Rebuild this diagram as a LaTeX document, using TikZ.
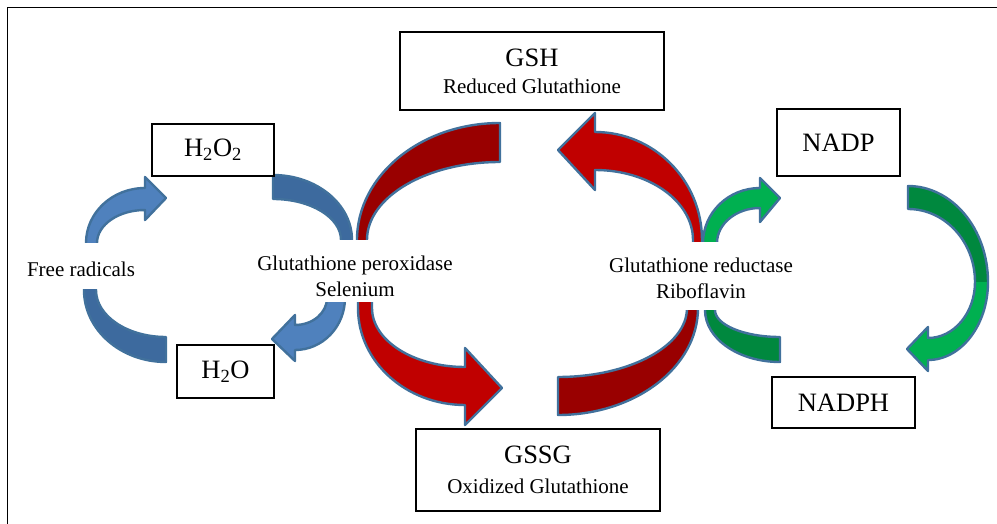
\documentclass[tikz,border=0pt]{standalone}
\usepackage{fontspec}
\setmainfont{Liberation Serif}
\definecolor{outl}{HTML}{41719C}
\definecolor{blight}{HTML}{4F81BD}
\definecolor{bdark}{HTML}{3D6A9E}
\definecolor{rlight}{HTML}{C00000}
\definecolor{rdark}{HTML}{990000}
\definecolor{glight}{HTML}{00B050}
\definecolor{gdark}{HTML}{00883E}
\newcommand\bigsz{\fontsize{26.5}{30}\selectfont}
\newcommand\smsz{\fontsize{21}{26}\selectfont}
\tikzset{
  piece/.style={draw=outl, line width=2.4, line join=round},
  box/.style={draw=black, line width=1.8, fill=white, inner sep=0, align=center},
  cover/.style={fill=white, inner sep=0},
  lbl/.style={inner sep=0, align=center, font=\smsz},
}
\begin{document}
\begin{tikzpicture}[x=1pt,y=-1pt]
\useasboundingbox (0,0) rectangle (997,524);
% frame
\draw[line width=1.8] (7.5,524) -- (7.5,7.5) -- (997,7.5);

% ---------- blue cycle ----------
% A: free radicals -> H2O2 (light)
\draw[piece, fill=blight] (86,252) -- (86,243) .. controls (86,212.6) and (112.4,188) .. (145,188)
  -- (145,177) -- (166,198) -- (145,220) -- (145,210)
  .. controls (118.5,210) and (97,224.8) .. (97,243) -- (97,252) -- cycle;
% B: H2O -> free radicals (dark)
\draw[piece, fill=bdark] (84,280) -- (84,290) .. controls (84,329.8) and (120.7,362) .. (166,362)
  -- (166,337) .. controls (127.3,337) and (96,316) .. (96,290) -- (96,280) -- cycle;
% C: H2O2 -> peroxidase (dark)
\draw[piece, fill=bdark] (273,175) .. controls (316.6,175) and (352,204.1) .. (352,240)
  -- (352,250) -- (341,250) -- (341,240)
  .. controls (341,217.4) and (310.6,199) .. (273,199) -- cycle;
% D: peroxidase -> H2O (light)
\draw[piece, fill=blight] (327,292) -- (327,298) .. controls (327,312.9) and (312.7,325) .. (295,325)
  -- (295,315) -- (272,339) -- (295,361) -- (295,350)
  .. controls (322.6,350) and (345,326.7) .. (345,298) -- (345,292) -- cycle;

% ---------- red cycle ----------
% E: top -> peroxidase (dark)
\draw[piece, fill=rdark] (357,250) -- (357,240) .. controls (357,175.4) and (421,123) .. (500,123)
  -- (500,162) .. controls (426.5,162) and (367,196.9) .. (367,240) -- (367,250) -- cycle;
% F: reductase -> GSH (light)
\draw[piece, fill=rlight] (702,250) -- (702,240) .. controls (702,180.4) and (654.1,132) .. (595,132)
  -- (595,113) -- (558,150) -- (595,190) -- (595,170)
  .. controls (649.1,170) and (693,201.3) .. (693,240) -- (693,250) -- cycle;
% G: peroxidase -> GSSG (light)
\draw[piece, fill=rlight] (358,294) -- (358,308) .. controls (358,361.6) and (405.9,405) .. (465,405)
  -- (465,425) -- (502,388) -- (465,348) -- (465,367)
  .. controls (413.6,367) and (372,340.6) .. (372,308) -- (372,294) -- cycle;
% H: bottom -> reductase (dark)
\draw[piece, fill=rdark] (698,300) -- (698,308) .. controls (698,367.1) and (635.3,415) .. (558,415)
  -- (558,377) .. controls (629.2,377) and (687,346.1) .. (687,308) -- (687,300) -- cycle;

% ---------- green cycle ----------
% I: reductase -> NADP (light)
\draw[piece, fill=glight] (703,252) -- (703,243) .. controls (703,212.6) and (728.5,188) .. (760,188)
  -- (760,178) -- (780,198) -- (760,222) -- (760,208)
  .. controls (736.3,208) and (717,223.7) .. (717,243) -- (717,252) -- cycle;
% L: NADPH side -> reductase (dark)
\draw[piece, fill=gdark] (705,300) -- (705,310) .. controls (705,338.7) and (738.6,362) .. (780,362)
  -- (780,337) .. controls (744.1,337) and (715,324.9) .. (715,310) -- (715,300) -- cycle;
% J + K: NADP -> NADPH
\fill[gdark] (908,186) .. controls (952.2,186) and (988,229) .. (988,282)
  -- (975,282) .. controls (975,241.7) and (945,209) .. (908,209) -- cycle;
\fill[glight] (988,282) .. controls (988,325.1) and (961.1,360) .. (928,360)
  -- (928,371) -- (907,349) -- (928,327) -- (928,338)
  .. controls (954,338) and (975,312.9) .. (975,282) -- cycle;
\draw[piece] (908,186) .. controls (952.2,186) and (988,229) .. (988,282)
  .. controls (988,325.1) and (961.1,360) .. (928,360)
  -- (928,371) -- (907,349) -- (928,327) -- (928,338)
  .. controls (954,338) and (975,312.9) .. (975,282)
  .. controls (975,241.7) and (945,209) .. (908,209) -- cycle;

% ---------- white backgrounds of the labels ----------
\node[cover, minimum width=120, minimum height=46] (frbg) at (81,266) {};
\node[cover, minimum width=204, minimum height=62] (gpxbg) at (355,271) {};
\node[cover, minimum width=200, minimum height=68] (grbg) at (701,276) {};
% ---------- labels ----------
\node[lbl] (fr) at (81,269) {Free radicals};
\node[lbl] (gpx) at (355,276) {Glutathione peroxidase\\Selenium};
\node[lbl] (gr) at (701,278.5) {Glutathione reductase\\Riboflavin};

% ---------- boxes ----------
\node[box, font=\smsz, minimum width=264, minimum height=78] (gsh) at (532,71)
  {{\bigsz GSH}\\[1pt]Reduced Glutathione};
\node[box, font=\smsz, minimum width=244, minimum height=82] (gssg) at (538,470)
  {{\bigsz GSSG}\\[4pt]Oxidized Glutathione};
\node[box, minimum width=122, minimum height=52, font=\bigsz] (h2o2) at (213,150)
  {H\textsubscript{2}O\textsubscript{2}};
\node[box, minimum width=97, minimum height=53, font=\bigsz] (h2o) at (225.5,371.5)
  {H\textsubscript{2}O};
\node[box, minimum width=123, minimum height=67, font=\bigsz] (nadp) at (838.5,142.5) {NADP};
\node[box, minimum width=143, minimum height=51, font=\bigsz] (nadph) at (843.5,402.5) {NADPH};
\end{tikzpicture}
\end{document}
